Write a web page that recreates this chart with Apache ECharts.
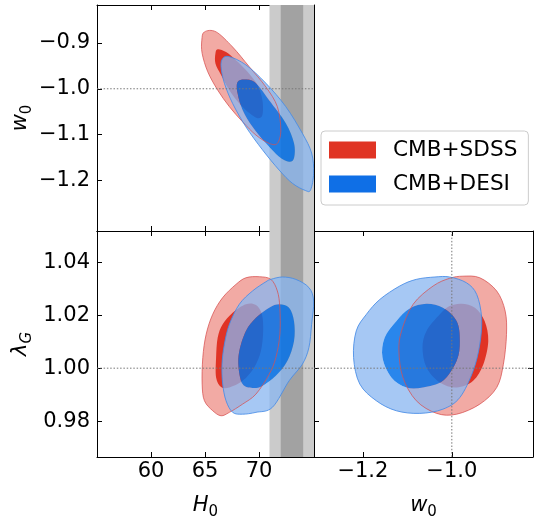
<!DOCTYPE html>
<html><head><meta charset="utf-8">
<script src="https://cdn.jsdelivr.net/npm/echarts@6/dist/echarts.min.js"></script>
<style>html,body{margin:0;padding:0;background:#fff}#c{width:535px;height:521px}</style>
</head><body><div id="c"></div><script>
// ---- axis ranges & ticks ----
const H0_RANGE = [55, 75.08];
const W0_RANGE = [-1.31, -0.8174];
const LG_RANGE = [0.9664, 1.0519];
const H0_TICKS = [60, 65, 70];
const W0_TICKS = [-1.2, -1.1, -1.0, -0.9];
const W0X_TICKS = [-1.2, -1.0];
const LG_TICKS = [0.98, 1.00, 1.02, 1.04];
// SH0ES H0 band (1 sigma, 2 sigma)
const SH0ES_1SIG = [72.00, 74.08];
const SH0ES_2SIG = [70.96, 75.12];
const REF_W0 = -1.0;
const REF_LG = 1.0;
const LEGEND_NAMES = ['CMB+SDSS', 'CMB+DESI'];

// ---- contours: H0 vs w0 ----
const SDSS_H0W0_2S = [[64.94,-0.876],[66.02,-0.876],[67.55,-0.909],[69.09,-0.952],[70.63,-0.996],[71.69,-1.039],[72.01,-1.090],[71.69,-1.119],[70.93,-1.119],[69.71,-1.101],[68.47,-1.072],[67.25,-1.039],[66.17,-1.003],[65.25,-0.963],[64.73,-0.923],[64.70,-0.894]];
const SDSS_H0W0_1S = [[66.17,-0.914],[66.94,-0.920],[67.86,-0.938],[68.93,-0.963],[69.85,-0.992],[70.31,-1.025],[70.31,-1.057],[69.85,-1.064],[69.09,-1.053],[68.17,-1.032],[67.25,-1.003],[66.48,-0.970],[65.96,-0.945],[65.96,-0.923]];
const DESI_H0W0_2S = [[66.63,-0.934],[67.25,-0.930],[68.78,-0.948],[70.63,-0.988],[72.47,-1.039],[74.00,-1.097],[74.86,-1.140],[75.05,-1.184],[74.77,-1.220],[74.31,-1.222],[73.08,-1.206],[71.85,-1.177],[70.31,-1.133],[68.78,-1.083],[67.55,-1.032],[66.79,-0.988],[66.48,-0.952]];
const DESI_H0W0_1S = [[68.01,-0.985],[68.78,-0.980],[69.71,-0.988],[70.93,-1.025],[72.47,-1.075],[73.23,-1.119],[73.23,-1.151],[72.77,-1.159],[71.85,-1.148],[70.63,-1.119],[69.39,-1.083],[68.47,-1.046],[68.01,-1.010]];
// ---- contours: H0 vs lambda_G ----
const SDSS_H0LG_2S = [[68.78,1.0342],[70.01,1.0346],[71.09,1.0336],[71.69,1.0292],[71.92,1.0229],[71.92,1.0128],[71.55,1.0040],[70.93,0.9977],[69.71,0.9902],[68.47,0.9864],[67.25,0.9833],[66.48,0.9820],[65.71,0.9839],[64.94,0.9877],[64.73,0.9940],[64.79,1.0040],[65.10,1.0128],[65.71,1.0204],[66.63,1.0267],[67.86,1.0317]];
const SDSS_H0LG_1S = [[68.78,1.0242],[69.71,1.0239],[70.26,1.0204],[70.38,1.0141],[70.17,1.0065],[69.55,1.0003],[68.47,0.9952],[67.25,0.9927],[66.48,0.9929],[66.02,0.9965],[66.02,1.0040],[66.17,1.0116],[66.63,1.0166],[67.55,1.0210]];
const DESI_H0LG_2S = [[71.09,1.0336],[72.15,1.0345],[73.39,1.0336],[74.61,1.0305],[75.05,1.0254],[74.86,1.0166],[74.61,1.0078],[74.00,1.0015],[72.77,0.9952],[71.23,0.9852],[69.71,0.9833],[68.47,0.9826],[67.55,0.9833],[66.94,0.9877],[66.63,0.9940],[66.57,1.0015],[66.79,1.0091],[67.25,1.0166],[68.17,1.0242],[69.39,1.0292],[70.63,1.0327]];
const DESI_H0LG_1S = [[71.85,1.0242],[72.77,1.0229],[73.23,1.0178],[73.23,1.0103],[72.62,1.0028],[71.55,0.9971],[70.31,0.9933],[69.39,0.9925],[68.47,0.9940],[68.10,1.0003],[68.17,1.0065],[68.78,1.0141],[69.71,1.0191],[70.93,1.0229]];
// ---- contours: w0 vs lambda_G ----
const SDSS_W0LG_2S = [[-0.975,1.0348],[-0.937,1.0342],[-0.899,1.0292],[-0.880,1.0216],[-0.877,1.0128],[-0.884,1.0015],[-0.899,0.9927],[-0.937,0.9864],[-0.989,0.9826],[-1.034,0.9829],[-1.080,0.9877],[-1.110,0.9965],[-1.119,1.0065],[-1.113,1.0141],[-1.087,1.0242],[-1.042,1.0311],[-1.005,1.0340]];
const SDSS_W0LG_1S = [[-0.978,1.0244],[-0.948,1.0229],[-0.926,1.0178],[-0.918,1.0103],[-0.929,1.0015],[-0.952,0.9952],[-0.989,0.9927],[-1.027,0.9946],[-1.057,1.0003],[-1.066,1.0078],[-1.057,1.0141],[-1.027,1.0204],[-1.005,1.0235]];
const DESI_W0LG_2S = [[-1.038,1.0345],[-1.005,1.0345],[-0.967,1.0323],[-0.944,1.0279],[-0.933,1.0191],[-0.937,1.0091],[-0.952,0.9990],[-0.982,0.9889],[-1.020,0.9845],[-1.072,0.9829],[-1.125,0.9839],[-1.170,0.9877],[-1.207,0.9940],[-1.221,1.0040],[-1.215,1.0141],[-1.192,1.0204],[-1.162,1.0260],[-1.117,1.0311],[-1.080,1.0336]];
const DESI_W0LG_1S = [[-1.057,1.0244],[-1.020,1.0229],[-0.989,1.0178],[-0.982,1.0103],[-0.989,1.0028],[-1.020,0.9952],[-1.065,0.9927],[-1.102,0.9927],[-1.136,0.9965],[-1.156,1.0040],[-1.151,1.0116],[-1.125,1.0178],[-1.095,1.0226]];

// ---- styles ----
const FONT = 'DejaVu Sans';
const RED_2S = '#f2aaa4', RED_1S = '#e03325';
const BLUE_2S = 'rgba(136,182,240,0.75)', BLUE_1S = 'rgba(4,113,233,0.85)';
const RED_EDGE = 'rgba(215,80,80,0.75)', BLUE_EDGE = 'rgba(70,140,230,0.85)';
const LEG_RED = '#e03424', LEG_BLUE = '#0f6fe6';

const fmt = d => v => (v < 0 ? '\u2212' : '') + Math.abs(v).toFixed(d);
const nameRich = {
  i: {fontSize: 21, fontStyle: 'italic', fontFamily: FONT, color: '#000', lineHeight: 28, verticalAlign: 'middle'},
  s: {fontSize: 15, fontFamily: FONT, color: '#000', lineHeight: 15, verticalAlign: 'bottom'},
  si: {fontSize: 15, fontStyle: 'italic', fontFamily: FONT, color: '#000', lineHeight: 15, verticalAlign: 'bottom'}
};

function mkAxis(gridIndex, position, range, ticks, showLabels, f, name, nameGap) {
  const isX = position === 'bottom' || position === 'top';
  const o = {
    type: 'value', gridIndex, position, min: range[0], max: range[1],
    axisLine: {show: true, onZero: false, lineStyle: {color: '#000', width: 1}},
    axisTick: {show: true, inside: true, length: 5, customValues: ticks, lineStyle: {color: '#000', width: 1}},
    axisLabel: {show: showLabels, customValues: ticks, formatter: f, fontSize: 21, fontFamily: FONT, color: '#000', margin: isX ? 4 : 7},
    splitLine: {show: false}
  };
  if (name) {
    o.name = name; o.nameLocation = 'middle'; o.nameGap = nameGap;
    o.nameTextStyle = {rich: nameRich};
  }
  return o;
}

// smooth closed curve (Catmull-Rom -> cubic Bezier) through pixel points
function ringPath(px, reverse) {
  const p = reverse ? px.slice().reverse() : px;
  const n = p.length;
  let d = 'M' + p[0][0].toFixed(2) + ' ' + p[0][1].toFixed(2);
  for (let i = 0; i < n; i++) {
    const p0 = p[(i - 1 + n) % n], p1 = p[i], p2 = p[(i + 1) % n], p3 = p[(i + 2) % n];
    const c1 = [p1[0] + (p2[0] - p0[0]) / 6, p1[1] + (p2[1] - p0[1]) / 6];
    const c2 = [p2[0] - (p3[0] - p1[0]) / 6, p2[1] - (p3[1] - p1[1]) / 6];
    d += 'C' + c1[0].toFixed(2) + ' ' + c1[1].toFixed(2) + ' ' + c2[0].toFixed(2) + ' ' + c2[1].toFixed(2) + ' ' + p2[0].toFixed(2) + ' ' + p2[1].toFixed(2);
  }
  return d + 'Z';
}
function signedArea(px) {
  let s = 0;
  for (let i = 0; i < px.length; i++) { const a = px[i], b = px[(i + 1) % px.length]; s += a[0] * b[1] - b[0] * a[1]; }
  return s;
}
// outer: contour points; hole: optional inner contour removed from the fill
function contourSeries(name, outer, hole, g, fill, stroke, z) {
  return {
    type: 'custom', name, xAxisIndex: 2 * g, yAxisIndex: 2 * g, clip: true, z, silent: true,
    itemStyle: {color: name === LEGEND_NAMES[0] ? LEG_RED : LEG_BLUE},
    data: outer,
    renderItem: (params, api) => {
      if (params.dataIndex !== 0) return null;
      const po = outer.map(p => api.coord(p));
      let d = ringPath(po, false);
      if (hole) {
        const ph = hole.map(p => api.coord(p));
        d += ringPath(ph, Math.sign(signedArea(ph)) === Math.sign(signedArea(po)));
      }
      return {type: 'path', shape: {pathData: d},
        style: {fill: fill || 'none', stroke: stroke || 'none', lineWidth: 1}};
    }
  };
}
function bandSeries(range, g, yRef, color, z) {
  return {
    type: 'custom', xAxisIndex: 2 * g, yAxisIndex: 2 * g, z, silent: true, data: [range],
    renderItem: (params, api) => {
      const cs = params.coordSys;
      let x0 = api.coord([range[0], yRef])[0], x1 = api.coord([range[1], yRef])[0];
      x0 = Math.max(x0, cs.x); x1 = Math.min(x1, cs.x + cs.width);
      return {type: 'rect', shape: {x: x0, y: cs.y, width: Math.max(0, x1 - x0), height: cs.height}, style: {fill: color}};
    }
  };
}
function refLine(value, g, dir, other) {
  return {
    type: 'custom', xAxisIndex: 2 * g, yAxisIndex: 2 * g, z: 10, silent: true, data: [[value]],
    renderItem: (params, api) => {
      const cs = params.coordSys;
      let shape;
      if (dir === 'h') {
        const y = api.coord([other, value])[1];
        shape = {x1: cs.x, y1: y, x2: cs.x + cs.width, y2: y};
      } else {
        const x = api.coord([value, other])[0];
        shape = {x1: x, y1: cs.y, x2: x, y2: cs.y + cs.height};
      }
      return {type: 'line', shape, style: {stroke: '#777', lineWidth: 1, lineDash: [1.5, 1.8]}};
    }
  };
}

const series = [
  bandSeries(SH0ES_2SIG, 0, W0_RANGE[0], '#cbcbcb', 1),
  bandSeries(SH0ES_1SIG, 0, W0_RANGE[0], '#a2a2a2', 1),
  bandSeries(SH0ES_2SIG, 1, LG_RANGE[0], '#cbcbcb', 1),
  bandSeries(SH0ES_1SIG, 1, LG_RANGE[0], '#a2a2a2', 1)
];
const panels = [
  [0, SDSS_H0W0_2S, SDSS_H0W0_1S, DESI_H0W0_2S, DESI_H0W0_1S],
  [1, SDSS_H0LG_2S, SDSS_H0LG_1S, DESI_H0LG_2S, DESI_H0LG_1S],
  [2, SDSS_W0LG_2S, SDSS_W0LG_1S, DESI_W0LG_2S, DESI_W0LG_1S]
];
panels.forEach(([g, r2, r1, b2, b1]) => {
  series.push(contourSeries(LEGEND_NAMES[0], r2, null, g, RED_2S, null, 2));
  series.push(contourSeries(LEGEND_NAMES[0], r1, null, g, RED_1S, null, 3));
  series.push(contourSeries(LEGEND_NAMES[1], b2, b1, g, BLUE_2S, null, 4));
  series.push(contourSeries(LEGEND_NAMES[1], b1, null, g, BLUE_1S, null, 5));
  series.push(contourSeries(LEGEND_NAMES[0], r2, null, g, null, RED_EDGE, 6));
  series.push(contourSeries(LEGEND_NAMES[1], b2, null, g, null, BLUE_EDGE, 6));
});
series.push(refLine(REF_W0, 0, 'h', H0_RANGE[0]));
series.push(refLine(REF_LG, 1, 'h', H0_RANGE[0]));
series.push(refLine(REF_LG, 2, 'h', W0_RANGE[0]));
series.push(refLine(REF_W0, 2, 'v', LG_RANGE[0]));

const option = {
  animation: false,
  backgroundColor: '#fff',
  grid: [
    {left: 97, top: 5, width: 217, height: 226},
    {left: 97, top: 231, width: 217, height: 227},
    {left: 314, top: 231, width: 219, height: 227}
  ],
  xAxis: [
    mkAxis(0, 'bottom', H0_RANGE, H0_TICKS, false, fmt(0)),
    mkAxis(0, 'top', H0_RANGE, H0_TICKS, false, fmt(0)),
    mkAxis(1, 'bottom', H0_RANGE, H0_TICKS, true, fmt(0), '{i|H}{s|0}', 35),
    mkAxis(1, 'top', H0_RANGE, H0_TICKS, false, fmt(0)),
    mkAxis(2, 'bottom', W0_RANGE, W0X_TICKS, true, fmt(1), '{i|w}{s|0}', 35),
    mkAxis(2, 'top', W0_RANGE, W0X_TICKS, false, fmt(1))
  ],
  yAxis: [
    mkAxis(0, 'left', W0_RANGE, W0_TICKS, true, fmt(1), '{i|w}{s|0}', 62),
    mkAxis(0, 'right', W0_RANGE, W0_TICKS, false, fmt(1)),
    mkAxis(1, 'left', LG_RANGE, LG_TICKS, true, fmt(2), '{i|λ}{si|G}', 62),
    mkAxis(1, 'right', LG_RANGE, LG_TICKS, false, fmt(2)),
    mkAxis(2, 'left', LG_RANGE, LG_TICKS, false, fmt(2)),
    mkAxis(2, 'right', LG_RANGE, LG_TICKS, false, fmt(2))
  ],
  legend: {
    orient: 'vertical', left: 321, top: 131, padding: [8, 11, 10, 8],
    itemWidth: 47, itemHeight: 17, itemGap: 12, icon: 'rect',
    backgroundColor: 'rgba(255,255,255,0.8)', borderColor: '#cccccc', borderWidth: 1, borderRadius: 4,
    textStyle: {fontSize: 21.6, fontFamily: FONT, color: '#000', lineHeight: 21, padding: [0, 0, 0, 12]},
    selectedMode: false,
    data: [
      {name: LEGEND_NAMES[0], itemStyle: {color: LEG_RED}},
      {name: LEGEND_NAMES[1], itemStyle: {color: LEG_BLUE}}
    ]
  },
  series
};
const chart = echarts.init(document.getElementById('c'), null, {renderer: 'canvas'});
chart.setOption(option);
</script></body></html>
